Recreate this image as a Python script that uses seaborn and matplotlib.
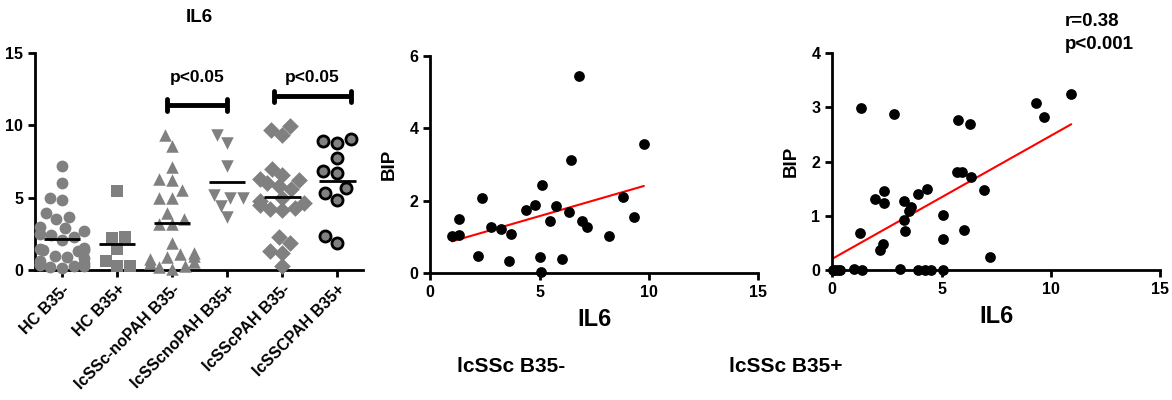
import numpy as np
import pandas as pd
import matplotlib
matplotlib.use("Agg")
import matplotlib.pyplot as plt
import seaborn as sns

# ---- panel 1: IL6 by group ----
groups = ["HC B35-", "HC B35+", "lcSSc-noPAH B35-", "lcSScnoPAH B35+",
          "lcSScPAH B35-", "lcSSCPAH B35+"]
hc_neg = [7.2, 6.0, 5.0, 4.85, 3.95, 3.65, 3.5, 3.0, 2.9, 2.7, 2.5, 2.45, 2.3,
          2.1, 1.5, 1.45, 1.4, 1.35, 1.3, 1.0, 0.9, 0.85, 0.6, 0.5, 0.4, 0.35,
          0.3, 0.25, 0.2, 0.15]
hc_pos = [5.46, 2.2, 2.26, 1.45, 0.65, 0.28, 0.3]
nopah_neg = [9.33, 8.59, 7.14, 6.29, 6.22, 5.53, 5.0, 4.95, 3.96, 3.52, 3.16,
             3.16, 1.89, 1.15, 1.1, 1.0, 0.9, 0.75, 0.55, 0.5, 0.3, 0.2, 0.1]
nopah_pos = [9.33, 8.8, 7.2, 5.0, 5.0, 5.18, 4.42, 3.68]
pah_neg = [9.97, 9.67, 9.33, 7.0, 6.6, 6.3, 6.2, 6.0, 5.8, 5.6, 5.0, 4.8, 4.6,
           4.5, 4.3, 4.2, 4.15, 2.25, 1.85, 1.3, 1.2, 0.28]
pah_pos = [9.03, 8.76, 8.91, 7.72, 6.72, 6.84, 5.64, 5.3, 4.84, 2.35, 1.84]
group_values = [hc_neg, hc_pos, nopah_neg, nopah_pos, pah_neg, pah_pos]
group_markers = ["o", "s", "^", "v", "D", "o"]

# significance brackets: (x start, x end, height)
brackets = [(1.9, 3.0, 11.4), (3.85, 5.25, 12.0)]
bracket_text = ["p<0.05", "p<0.05"]

# ---- panel 2: lcSSc B35- ----
b35neg_il6 = [1.0, 1.3, 1.34, 2.18, 2.37, 2.79, 3.25, 3.71, 3.6, 4.4, 4.78, 5.0,
              5.13, 5.08, 5.47, 5.74, 6.03, 6.34, 6.46, 6.81, 6.95, 7.15, 8.18,
              8.82, 9.31, 9.77]
b35neg_bip = [1.01, 1.06, 1.50, 0.46, 2.07, 1.27, 1.21, 1.09, 0.34, 1.75, 1.89,
              0.44, 2.42, 0.02, 1.44, 1.84, 0.39, 1.70, 3.13, 5.45, 1.45, 1.27,
              1.01, 2.10, 1.55, 3.56]

# ---- panel 3: lcSSc B35+ ----
b35pos_il6 = [0.05, 0.15, 0.25, 0.35, 1.02, 1.37, 1.26, 1.3, 1.95, 2.18, 2.33,
              2.36, 2.36, 2.82, 3.09, 3.27, 3.27, 3.32, 3.5, 3.61, 3.93, 3.93,
              4.26, 4.52, 4.34, 5.06, 5.07, 5.06, 5.74, 5.71, 5.94, 6.02, 6.32,
              6.35, 6.93, 7.23, 9.33, 9.70, 10.93]
b35pos_bip = [0.0, 0.0, 0.0, 0.0, 0.01, 0.0, 0.69, 2.99, 1.30, 0.36, 0.48, 1.23,
              1.45, 2.88, 0.02, 1.27, 0.92, 0.72, 1.09, 1.17, 1.41, 0.0, 0.0,
              0.0, 1.50, 1.01, 0.58, 0.0, 2.76, 1.81, 1.81, 0.74, 2.70, 1.71,
              1.47, 0.24, 3.07, 2.82, 3.25]

sns.set_style("ticks")
plt.rcParams["font.family"] = ["Liberation Sans", "DejaVu Sans"]
plt.rcParams["font.weight"] = "bold"
plt.rcParams["axes.labelweight"] = "bold"
plt.rcParams["axes.titleweight"] = "bold"
for key in ["text.color", "axes.labelcolor", "xtick.color", "ytick.color",
            "axes.edgecolor"]:
    plt.rcParams[key] = "black"

grey = "#808080"
fig = plt.figure(figsize=(11.72, 4), dpi=100)
ax1 = fig.add_axes([0.030, 0.325, 0.280, 0.5425])
ax2 = fig.add_axes([0.367, 0.3175, 0.280, 0.5425])
ax3 = fig.add_axes([0.710, 0.325, 0.280, 0.5425])


def style_axis(ax):
    sns.despine(ax=ax)
    for sp in ["left", "bottom"]:
        ax.spines[sp].set_linewidth(2)
        ax.spines[sp].set_color("black")
    ax.tick_params(width=2, length=5, labelsize=11.5, colors="black")
    for lab in ax.get_xticklabels() + ax.get_yticklabels():
        lab.set_fontweight("bold")


# panel 1
long_df = pd.DataFrame({
    "group": np.repeat(groups, [len(v) for v in group_values]),
    "IL6": np.concatenate(group_values),
})
for i, (g, m) in enumerate(zip(groups, group_markers)):
    sub = long_df[long_df["group"] == g]
    if i == 5:
        sns.swarmplot(data=sub, x="group", y="IL6", order=groups, ax=ax1,
                      marker=m, color=grey, size=8, linewidth=2,
                      edgecolor="black", clip_on=False)
    else:
        sns.swarmplot(data=sub, x="group", y="IL6", order=groups, ax=ax1,
                      marker=m, color=grey, size=9 if m in "^v" else 8.5,
                      linewidth=0, clip_on=False)
    ax1.hlines(np.mean(group_values[i]), i - 0.33, i + 0.33, color="black", lw=2,
               zorder=5)

for (x1, x2, h), t in zip(brackets, bracket_text):
    ax1.plot([x1, x2], [h, h], color="black", lw=3.5, solid_capstyle="butt")
    ax1.plot([x1, x1], [h - 0.4, h + 0.4], color="black", lw=3.5)
    ax1.plot([x2, x2], [h - 0.4, h + 0.4], color="black", lw=3.5)
    ax1.text((x1 + x2) / 2, 13.3, t, ha="center", va="center",
             fontsize=12.5, fontweight="bold")

ax1.set_xlim(-0.49, 5.47)
ax1.set_ylim(0, 15)
ax1.set_yticks([0, 5, 10, 15])
ax1.set_xlabel("")
ax1.set_ylabel("")
ax1.set_title("IL6", fontsize=13.5, fontweight="bold", pad=22)
style_axis(ax1)
ax1.set_xticks(range(len(groups)))
ax1.set_xticklabels(groups, rotation=45, ha="right", rotation_mode="anchor",
                    fontsize=11.5, fontweight="bold")

# panel 2 and 3
for ax, xs, ys, ymax in [(ax2, b35neg_il6, b35neg_bip, 6),
                         (ax3, b35pos_il6, b35pos_bip, 4)]:
    sns.regplot(x=xs, y=ys, ax=ax, ci=None, truncate=True,
                scatter_kws=dict(s=60, color="black", alpha=1, linewidths=0,
                                 clip_on=False, zorder=3),
                line_kws=dict(color="red", lw=1.5))
    ax.set_xlim(0, 15)
    ax.set_ylim(0, ymax)
    ax.set_xticks([0, 5, 10, 15])
    ax.set_xlabel("IL6", fontsize=17, fontweight="bold", labelpad=6)
    ax.set_ylabel("BIP", fontsize=13.5, fontweight="bold", labelpad=8)
    style_axis(ax)

ax2.set_yticks([0, 2, 4, 6])
ax3.set_yticks([0, 1, 2, 3, 4])
ax3.text(1065, 387, "r=0.38\np<0.001", transform=None, ha="left", va="top",
         fontsize=13.5, fontweight="bold", linespacing=1.45)

fig.text(511 / 1172, 1 - 366 / 400, "lcSSc B35-", ha="center", va="center",
         fontsize=15, fontweight="bold")
fig.text(786 / 1172, 1 - 366 / 400, "lcSSc B35+", ha="center", va="center",
         fontsize=15, fontweight="bold")

fig.savefig("out.png", dpi=100)
plt.close(fig)
